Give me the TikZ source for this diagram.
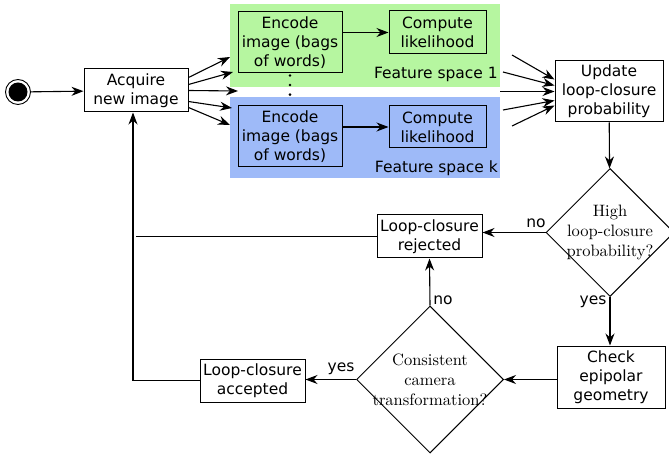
\documentclass[tikz,border=0pt]{standalone}
\usepackage{fontspec}
\setsansfont{DejaVu Sans}
\newfontfamily\decfont{lmroman10-regular.otf}
\usetikzlibrary{shapes.geometric,arrows.meta}
\definecolor{gg}{RGB}{182, 246, 160}
\definecolor{bb}{RGB}{158, 186, 248}

\begin{document}
\begin{tikzpicture}[
  box/.style={rectangle, draw=black, line width=1pt, inner sep=0pt, align=center, font=\sffamily\fontsize{15.5}{19}\selectfont},
  dec/.style={diamond, aspect=1, draw=black, line width=1pt, inner sep=0pt},
  dectext/.style={align=center, inner sep=0pt, font=\decfont\fontsize{16.5}{20}\selectfont},
  lbl/.style={inner sep=0pt, font=\sffamily\fontsize{15.5}{18}\selectfont},
  arr/.style={line width=1.1pt, -{Stealth[length=12pt,width=9pt]}},
  ln/.style={line width=1.1pt},
  dot/.style={circle, fill=black, inner sep=0pt, minimum size=2.8pt}]
\useasboundingbox (0pt,0pt) rectangle (669pt,-454pt);
% feature spaces
\fill [gg] (230pt,-4pt) rectangle (500pt,-87pt);
\fill [bb] (230pt,-97pt) rectangle (500pt,-178pt);
\node (fs1) [lbl, anchor=east] at (498pt,-74pt) {Feature space 1};
\node (fsk) [lbl, anchor=east] at (498pt,-168pt) {Feature space k};
% start
\node (start) [circle, draw=black, line width=0.9pt, minimum size=25pt, inner sep=0pt] at (18pt,-92pt) {};
\node (startin) [circle, fill=black, minimum size=19pt, inner sep=0pt] at (start) {};
% boxes
\node (acq) [box, fill=white, minimum width=104pt, minimum height=43pt] at (136pt,-90.5pt) {Acquire\\new image};
\node (enc1) [box, minimum width=104pt, minimum height=61pt] at (290pt,-42.5pt) {Encode\\image (bags\\of words)};
\node (lik1) [box, minimum width=97pt, minimum height=43pt] at (437.5pt,-32.5pt) {Compute\\likelihood};
\node (enc2) [box, minimum width=104pt, minimum height=61pt] at (290pt,-136.5pt) {Encode\\image (bags\\of words)};
\node (lik2) [box, minimum width=97pt, minimum height=42pt] at (437.5pt,-127pt) {Compute\\likelihood};
\node (upd) [box, minimum width=108pt, minimum height=61pt] at (609pt,-91.5pt) {Update\\loop-closure\\probability};
\node (rej) [box, minimum width=105pt, minimum height=43pt] at (429.5pt,-236.5pt) {Loop-closure\\rejected};
\node (epi) [box, minimum width=108pt, minimum height=62pt] at (611pt,-377pt) {Check\\epipolar\\geometry};
\node (acc) [box, minimum width=105pt, minimum height=43pt] at (252.5pt,-380.5pt) {Loop-closure\\accepted};
% decisions
\node (high) [dec, minimum size=128pt] at (610pt,-232.5pt) {};
\node (hightext) [dectext] at (high) {High\\loop-closure\\probability?};
\node (cons) [dec, minimum size=147pt] at (430pt,-379.5pt) {};
\node (constext) [dectext] at (cons) {Consistent\\camera\\transformation?};
% dots between the feature spaces
\path (enc1.south) -- (enc2.north) node (d1) [dot, pos=0.06] {} node (d2) [dot, pos=0.36] {} node (d3) [dot, pos=0.66] {};
% fan out of the new image
\coordinate (f1) at (230pt,-57pt);
\coordinate (f2) at (233pt,-72pt);
\coordinate (f3) at (238pt,-91pt);
\coordinate (f4) at (232pt,-108pt);
\coordinate (f5) at (230pt,-125pt);
\draw [arr] (start) to (acq);
\draw [arr] ([yshift=13pt]acq.east) to (f1);
\draw [arr] ([yshift=6pt]acq.east) to (f2);
\draw [arr] (acq.east) to (f3);
\draw [arr] ([yshift=-11pt]acq.east) to (f4);
\draw [arr] ([yshift=-17pt]acq.east) to (f5);
\draw [arr] (enc1.east |- lik1) to (lik1);
\draw [arr] (enc2.east |- lik2) to (lik2);
% fan into the update
\coordinate (g1) at (512pt,-55pt);
\coordinate (g2) at (503pt,-72pt);
\coordinate (g3) at (500pt,-91.5pt);
\coordinate (g4) at (503pt,-110pt);
\coordinate (g5) at (512pt,-126pt);
\draw [arr] (g1) to ([yshift=12pt]upd.west);
\draw [arr] (g2) to ([yshift=6pt]upd.west);
\draw [arr] (g3) to (upd.west);
\draw [arr] (g4) to ([yshift=-9pt]upd.west);
\draw [arr] (g5) to ([yshift=-14pt]upd.west);
% decisions
\draw [arr] (upd) to (high);
\draw [arr] (high.west) to (rej.east |- high.west);
\node (no1) [lbl] at (536pt,-223pt) {no};
\draw [arr] (high.south) to (epi.north -| high.south);
\node (yes1) [lbl] at (593pt,-302pt) {yes};
\draw [arr] (epi.west |- cons) to (cons.east);
\draw [arr] (cons.north) to (rej.south);
\node (no2) [lbl] at (443pt,-300pt) {no};
\draw [arr] (cons.west) to (acc.east |- cons.west);
\node (yes2) [lbl] at (341pt,-369pt) {yes};
% back to a new image
\draw [ln] (rej.west) to (rej.west -| acq.south);
\draw [arr] (acc.west) -| ([xshift=-3pt]acq.south);
\end{tikzpicture}
\end{document}
